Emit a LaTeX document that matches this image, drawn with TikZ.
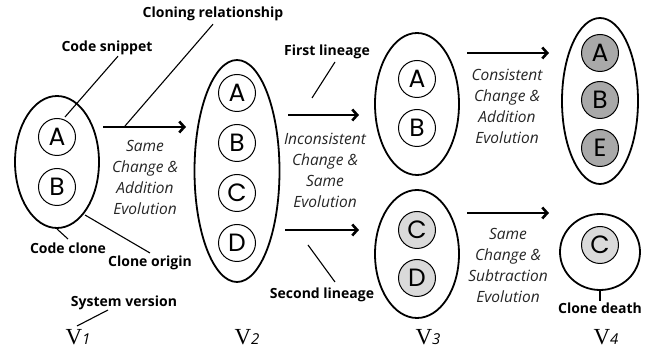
\documentclass[tikz,border=0pt]{standalone}
\usepackage{fontspec}
\setmainfont{Open Sans}
\newfontfamily\vfont{Liberation Serif}
\newfontfamily\letterfont{Poppins}
\usetikzlibrary{arrows.meta,shapes.geometric}

\definecolor{shadeDark}{HTML}{A9A9A9}
\definecolor{shadeLight}{HTML}{DADADA}
\definecolor{evoText}{HTML}{262626}

\tikzset{
  group/.style={ellipse, draw, line width=1.8pt, inner sep=0pt},
  snippet/.style={circle, draw, line width=1pt, minimum size=37pt, inner sep=0pt,
    font=\letterfont\fontsize{25}{25}\selectfont},
  dark/.style={snippet, fill=shadeDark},
  light/.style={snippet, fill=shadeLight},
  evo/.style={align=center, text=evoText, inner sep=0pt,
    font=\itshape\fontsize{15.5}{21}\selectfont},
  lbl/.style={inner sep=1pt, font=\bfseries\fontsize{14}{16}\selectfont},
  flow/.style={line width=2.6pt, -{Straight Barb[length=5pt,width=11pt,line width=2.6pt]}},
  lead/.style={line width=1.1pt},
  ver/.style={inner sep=0pt, anchor=base}
}

\newcommand{\vername}[1]{{\vfont\fontsize{23}{23}\selectfont V}{\itshape\fontsize{15}{15}\selectfont #1}}

\begin{document}
\begin{tikzpicture}[x=1pt, y=-1pt]
\useasboundingbox (0,0) rectangle (649,352);

% ---- version 1 ----
\node[group, minimum width=84pt, minimum height=132pt] (g1) at (57,162) {};
\node[snippet] (a1) at (57,137) {A};
\node[snippet] (b1) at (57,187) {B};

% ---- version 2 ----
\node[group, minimum width=85pt, minimum height=222pt] (g2) at (237,171) {};
\node[snippet] (a2) at (237,93) {A};
\node[snippet] (b2) at (237,143) {B};
\node[snippet] (c2) at (237,193) {C};
\node[snippet] (d2) at (237,243) {D};

% ---- version 3 ----
\node[group, minimum width=84pt, minimum height=142pt] (g3a) at (417,104) {};
\node[snippet] (a3) at (417,79) {A};
\node[snippet] (b3) at (417,128) {B};
\node[group, minimum width=84pt, minimum height=128pt] (g3b) at (417,254) {};
\node[light] (c3) at (417,230) {C};
\node[light] (d3) at (417,278) {D};

% ---- version 4 ----
\node[group, minimum width=76pt, minimum height=166pt] (g4a) at (600,101) {};
\node[dark] (a4) at (600,53) {A};
\node[dark] (b4) at (600,100) {B};
\node[dark] (e4) at (600,148) {E};
\node[group, minimum width=80pt, minimum height=76pt] (g4b) at (600,252) {};
\node[light] (c4) at (600,245) {C};

% ---- evolution arrows ----
\coordinate (s12) at (103,127);  \coordinate (t12) at (186,127);
\coordinate (s23a) at (288,115); \coordinate (t23a) at (359,115);
\coordinate (s23b) at (285,230); \coordinate (t23b) at (359,230);
\coordinate (s34a) at (467,53);  \coordinate (t34a) at (549,53);
\coordinate (s34b) at (467,213); \coordinate (t34b) at (549,213);
\draw[flow] (s12) -- (t12);
\draw[flow] (s23a) -- (t23a);
\draw[flow] (s23b) -- (t23b);
\draw[flow] (s34a) -- (t34a);
\draw[flow] (s34b) -- (t34b);

% ---- evolution descriptions ----
\node[evo] (e12) at (145,177) {Same\\Change \&\\Addition\\Evolution};
\node[evo] (e23) at (325,170) {Inconsistent\\Change \&\\Same\\Evolution};
\node[evo] (e34a) at (507,106) {Consistent\\Change \&\\Addition\\Evolution};
\node[evo] (e34b) at (508,265) {Same\\Change \&\\Subtraction\\Evolution};

% ---- annotations ----
\node[lbl] (lrel) at (213,14) {Cloning relationship};
\coordinate (prel) at (125,126);
\draw[lead] (lrel.south) ++(0,2) coordinate (qrel) (qrel) -- (prel);

\node[lbl] (lsnip) at (107,48) {Code snippet};
\coordinate (psnip) at (65,117);
\draw[lead] (lsnip.south) ++(11,0) coordinate (qsnip) (qsnip) -- (psnip);

\node[lbl] (lfirst) at (327,52) {First lineage};
\coordinate (pfirst) at (335,62); \coordinate (qfirst) at (312,98);
\draw[lead] (pfirst) -- (qfirst);

\node[lbl] (lsecond) at (322,295) {Second lineage};
\coordinate (psecond) at (308,245); \coordinate (qsecond) at (335,282);
\draw[lead] (psecond) -- (qsecond);

\node[lbl] (lclone) at (68,248) {Code clone};
\coordinate (pclone) at (57,229); \coordinate (qclone) at (68,239);
\draw[lead] (pclone) -- (qclone);

\node[lbl] (lorigin) at (150,263) {Clone origin};
\coordinate (porigin) at (85,215); \coordinate (qorigin) at (150,253);
\draw[lead] (porigin) -- (qorigin);

\node[lbl] (lsys) at (124,303) {System version};
\coordinate (psys) at (108,310); \coordinate (qsys) at (77,326);
\draw[lead] (psys) -- (qsys);

\node[lbl] (ldeath) at (600,308) {Clone death};
\draw[lead] (g4b.south) -- (ldeath.north);

% ---- version names ----
\node[ver] (v1) at (78,345) {\vername{1}};
\node[ver] (v2) at (247,345) {\vername{2}};
\node[ver] (v3) at (428,345) {\vername{3}};
\node[ver] (v4) at (606,345) {\vername{4}};
\end{tikzpicture}
\end{document}
